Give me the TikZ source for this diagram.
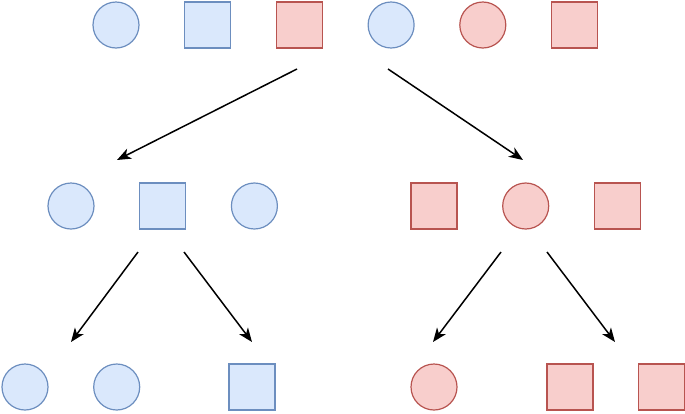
\documentclass[tikz,border=0pt]{standalone}
\usepackage{xcolor}
\usepackage{tikz}
\usetikzlibrary{arrows.meta,positioning}

\definecolor{bluefill}{HTML}{DAE8FC}
\definecolor{blueline}{HTML}{6C8EBF}
\definecolor{redfill}{HTML}{F8CECC}
\definecolor{redline}{HTML}{B85450}

\begin{document}
\begin{tikzpicture}[x=1pt, y=-1pt, node distance=44.5pt,
  item/.style={draw, minimum size=46pt, inner sep=0pt, line width=1.2pt},
  bcirc/.style={item, circle, fill=bluefill, draw=blueline},
  bsq/.style={item, rectangle, fill=bluefill, draw=blueline},
  rcirc/.style={item, circle, fill=redfill, draw=redline},
  rsq/.style={item, rectangle, fill=redfill, draw=redline},
  split/.style={-{Stealth[length=14pt, width=11pt, inset=4pt]}, line width=1.5pt}
]
\useasboundingbox (0,0) rectangle (685,413);

% whole set
\node[bcirc] (t1) at (116,25) {};
\node[bsq, right=of t1] (t2) {};
\node[rsq, right=of t2] (t3) {};
\node[bcirc, right=of t3] (t4) {};
\node[rcirc, right=of t4] (t5) {};
\node[rsq, right=of t5] (t6) {};

% first split
\node[bcirc] (m1) at (71,206) {};
\node[bsq, right=of m1] (m2) {};
\node[bcirc, right=of m2] (m3) {};
\node[rsq] (m4) at (434,206) {};
\node[rcirc, right=of m4] (m5) {};
\node[rsq, right=of m5] (m6) {};

% second split
\node[bcirc] (b1) at (25,387) {};
\node[bcirc, right=of b1] (b2) {};
\node[bsq] (b3) at (252,387) {};
\node[rcirc] (b4) at (434,387) {};
\node[rsq] (b5) at (570,387) {};
\node[rsq, right=of b5] (b6) {};

% arrow ends
\coordinate (s1) at (297,69);  \coordinate (e1) at (117,160);
\coordinate (s2) at (388,69);  \coordinate (e2) at (523,160);
\coordinate (s3) at (138,252); \coordinate (e3) at (71,342);
\coordinate (s4) at (184,252); \coordinate (e4) at (252,342);
\coordinate (s5) at (501,252); \coordinate (e5) at (433,342);
\coordinate (s6) at (547,252); \coordinate (e6) at (615,342);

\foreach \i in {1,...,6}
  \draw[split] (s\i) -- (e\i);
\end{tikzpicture}
\end{document}
